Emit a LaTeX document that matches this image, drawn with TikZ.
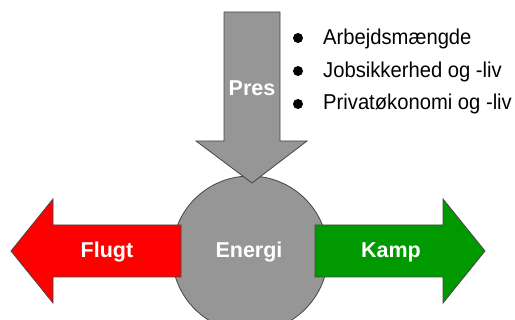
\documentclass[tikz,border=0pt]{standalone}
\usepackage{fontspec}
\setmainfont{Liberation Sans}
\newfontfamily\itemfont[FakeStretch=0.94]{Liberation Sans}
\usepackage{tikz}
\usetikzlibrary{positioning}
\definecolor{pressure}{RGB}{150, 150, 150}
\definecolor{flight}{RGB}{255, 0, 0}
\definecolor{fight}{RGB}{0, 153, 0}
\definecolor{outline}{RGB}{70, 70, 70}
\tikzstyle{block} = [draw=outline, line width=0.8pt, line join=miter]
\tikzstyle{blocktext} = [anchor=base, inner sep=0pt, text=white, font=\fontsize{21.5}{24}\selectfont\bfseries]
\tikzstyle{itemtext} = [anchor=base west, inner sep=0pt, font=\itemfont\fontsize{21.5}{24}\selectfont]
\tikzstyle{bulletdot} = [circle, fill=black, minimum size=10pt, inner sep=0pt]

\begin{document}
\begin{tikzpicture}[x=1pt, y=-1pt]
    \useasboundingbox (0,0) rectangle (515,320);
    \clip (0,0) rectangle (515,320);

    % Energy
    \node[block, circle, fill=pressure, minimum size=156pt, inner sep=0pt] (energi) at (250,254) {};

    % Arrows
    \draw[block, fill=flight] (181,225) -- (53,225) -- (53,199) -- (11,251) -- (53,303) -- (53,277) -- (181,277) -- cycle;
    \draw[block, fill=fight] (315,225) -- (443,225) -- (443,199) -- (485,251) -- (443,303) -- (443,277) -- (315,277) -- cycle;
    \draw[block, fill=pressure] (224,12) -- (280,12) -- (280,141) -- (307,141) -- (252,183) -- (196,141) -- (224,141) -- cycle;

    % Labels
    \node[blocktext] (energitext) at (249,258) {Energi};
    \node[blocktext] (flugt) at (107,258) {Flugt};
    \node[blocktext] (kamp) at (391,258) {Kamp};
    \node[blocktext] (pres) at (252,96) {Pres};

    % Bullet list
    \node[bulletdot] (b1) at (298,38) {};
    \node[bulletdot] (b2) at (298,71) {};
    \node[bulletdot] (b3) at (298,104) {};
    \node[itemtext] (i1) at (323,45) {Arbejdsmængde};
    \node[itemtext] (i2) at (323,78) {Jobsikkerhed og -liv};
    \node[itemtext] (i3) at (323,110) {Privatøkonomi og -liv};
\end{tikzpicture}
\end{document}
